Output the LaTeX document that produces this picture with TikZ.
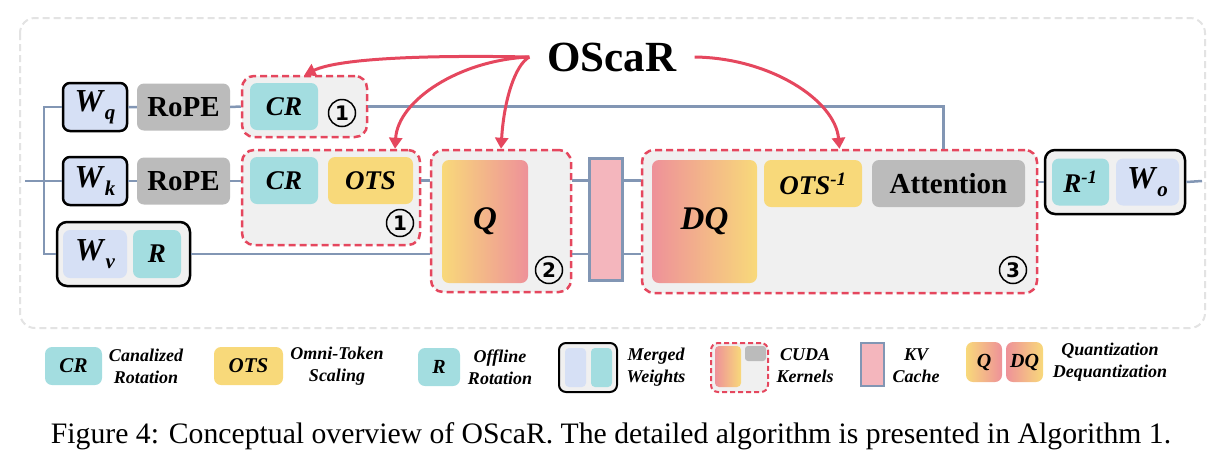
\documentclass[tikz,border=0pt]{standalone}
\usepackage{fontspec}
\setmainfont{Liberation Serif}
\newfontfamily\numfont{DejaVu Sans}
\usetikzlibrary{arrows.meta, positioning, calc}

\definecolor{linec}{HTML}{8296B4}
\definecolor{redc}{HTML}{E5475E}
\definecolor{tealc}{HTML}{A3DDE0}
\definecolor{yelc}{HTML}{F8D97A}
\definecolor{pinkc}{HTML}{EE9199}
\definecolor{ropec}{HTML}{BBBBBB}
\definecolor{wc}{HTML}{D6E0F5}
\definecolor{grpc}{HTML}{F0F0F0}
\definecolor{kvc}{HTML}{F4B6BD}
\definecolor{outc}{HTML}{E3E3E3}

\newcommand\bfit{\bfseries\itshape}
\newcommand\wsub[1]{{\bfit W\kern2pt\raisebox{-8pt}{\fontsize{21}{21}\selectfont #1}}}

\begin{document}
\begin{tikzpicture}[x=1pt, y=-1pt,
  sz/.style 2 args={minimum width=#1pt, minimum height=#2pt},
  blk/.style={rounded corners=7pt, inner sep=0pt, font=\fontsize{27}{30}\selectfont\bfit},
  wbox/.style={blk, fill=wc, font=\fontsize{32}{34}\selectfont},
  rope/.style={blk, fill=ropec, font=\fontsize{29}{32}\selectfont\bfseries},
  grp/.style={rounded corners=12pt, draw=redc, fill=grpc, dash pattern=on 7pt off 4pt, line width=2.5pt, inner sep=0pt},
  mrg/.style={rounded corners=10pt, draw=black, fill=grpc, line width=2.5pt, inner sep=0pt},
  num/.style={circle, draw, line width=1.5pt, minimum size=27pt, inner sep=0pt, font=\numfont\bfseries\fontsize{20}{20}\selectfont},
  wire/.style={linec, line width=2.5pt},
  hint/.style={redc, line width=3pt, -{Triangle[length=11pt,width=13pt]}},
  leg/.style={font=\fontsize{18}{22}\selectfont\bfit, align=center, inner sep=0pt},
  legbox/.style={blk, font=\fontsize{21}{24}\selectfont\bfit}]
  \useasboundingbox (0,0) rectangle (1223,467);
  % outer frame
  \draw[outc, line width=2pt, dash pattern=on 7pt off 4pt, rounded corners=15pt] (20,18) rectangle (1205,328);

  % kernel groups
  \node[grp, sz={125}{61}] (g1a) at (304.5,106.5) {};
  \node[grp, sz={178}{95}] (g1b) at (331,197.5) {};
  \node[grp, sz={140}{142}] (g2) at (501,221) {};
  \node[grp, sz={395}{143}] (g3) at (839.5,221.5) {};

  % q and k branches
  \node[wbox, draw=black, line width=2.5pt, sz={64}{48}] (wq) at (95,107) {\wsub{q}};
  \node[wbox, draw=black, line width=2.5pt, sz={64}{48}] (wk) at (95,181) {\wsub{k}};
  \node[rope, sz={93}{47}] (ropeq) at (183.5,107) {RoPE};
  \node[rope, sz={93}{47}] (ropek) at (183.5,181) {RoPE};
  \node[blk, fill=tealc, sz={68}{47}] (crq) at (284,106.5) {CR};
  \node[num] (n1a) at (342,113) {1};
  \node[blk, fill=tealc, sz={68}{47}] (crk) at (284,180.5) {CR};
  \node[blk, fill=yelc, sz={85}{47}] (ots) at (370.5,180.5) {OTS};
  \node[num] (n1b) at (400,223) {1};

  % v branch (merged)
  \node[mrg, sz={133}{64}] (mv) at (123.5,254) {};
  \node[wbox, sz={64}{48}] (wv) at (95,254) {\wsub{v}};
  \node[blk, fill=tealc, sz={48}{48}] (rv) at (157,254) {R};

  % quantization, kv cache, attention
  \node[blk, left color=yelc, right color=pinkc, sz={86}{123}, font=\fontsize{33}{36}\selectfont\bfit] (qk) at (485,221.5) {Q};
  \node[num] (n2) at (549,270) {2};
  \node[fill=kvc, draw=linec, line width=3pt, sz={33}{122}] (kv) at (605.5,219) {};
  \node[blk, left color=pinkc, right color=yelc, sz={105}{123}, font=\fontsize{33}{36}\selectfont\bfit] (dq) at (704.5,221.5) {DQ};
  \node[blk, fill=yelc, sz={98}{47}] (otsi) at (813,183.5) {OTS\textsuperscript{-1}};
  \node[rope, sz={153}{47}] (attn) at (948.5,183.5) {Attention};
  \node[num] (n3) at (1013,270) {3};

  % output (merged)
  \node[mrg, sz={140}{64}] (mo) at (1115,182) {};
  \node[blk, fill=tealc, sz={57}{47}] (ri) at (1080.5,182) {R\textsuperscript{-1}};
  \node[wbox, sz={63}{47}] (wo) at (1147.5,182) {\wsub{o}};

  % wires
  \coordinate (in) at (25,181);
  \coordinate (out) at (1202,181);
  \draw[wire] (in) -- (wk.west);
  \draw[wire] (wq.west) -- ++(-18,0) |- (mv.west);
  \draw[wire] (wq.east) -- (ropeq.west) (ropeq.east) -- (g1a.west);
  \draw[wire] (wk.east) -- (ropek.west) (ropek.east) -- (ropek.east -| g1b.west);
  \draw[wire] (g1a.east) -| ([xshift=-5pt]attn.north |- g3.north);
  \draw[wire] (ots.east -| g1b.east) -- (ots.east -| g2.west);
  \draw[wire] (ots.east -| g2.east) -- (ots.east -| kv.west);
  \draw[wire] (ots.east -| kv.east) -- (ots.east -| g3.west);
  \draw[wire] (mv.east) -- (mv.east -| g2.west);
  \draw[wire] (mv.east -| g2.east) -- (mv.east -| kv.west);
  \draw[wire] (mv.east -| kv.east) -- (mv.east -| g3.west);
  \draw[wire] (g3.east |- mo.west) -- (mo.west);
  \draw[wire] (mo.east) -- (out);

  % OScaR and its hints
  \node[font=\fontsize{43}{46}\selectfont\bfseries, inner sep=0pt, inner xsep=18pt] (oscar) at (612,57) {OScaR};
  \draw[hint] (oscar.west) .. controls (430,55) and (340,58) .. (g1a.north);
  \draw[hint] (oscar.west) .. controls (460,60) and (398,100) .. ([xshift=64pt]g1b.north);
  \draw[hint] (oscar.west) .. controls (515,65) and (504,100) .. (g2.north);
  \draw[hint] (oscar.east) .. controls (770,58) and (835,100) .. (g3.north);

  % legend
  \node[legbox, fill=tealc, sz={57}{38}] (lcr) at (73.5,366) {CR};
  \node[leg] (tcr) at (146,366) {Canalized\\Rotation};
  \node[legbox, fill=yelc, sz={69}{38}] (lots) at (248.5,366) {OTS};
  \node[leg] (tots) at (337,366) {Omni-Token\\Scaling};
  \node[legbox, fill=tealc, sz={42}{38}, font=\fontsize{20}{22}\selectfont\bfit] (lr) at (439,367) {R};
  \node[leg] (tr) at (500,367) {Offline\\Rotation};
  \node[mrg, sz={58}{49}, line width=2pt, rounded corners=7pt] (lmw) at (588,367.5) {};
  \node[blk, fill=wc, sz={21}{39}, rounded corners=4pt] (lmw1) at (575.5,367.5) {};
  \node[blk, fill=tealc, sz={21}{39}, rounded corners=4pt] (lmw2) at (601.5,367.5) {};
  \node[leg] (tmw) at (656,367) {Merged\\Weights};
  \node[grp, sz={57}{49}, line width=2pt, dash pattern=on 5pt off 3pt, rounded corners=7pt] (lck) at (739.5,367.5) {};
  \node[blk, left color=pinkc, right color=yelc, sz={26}{41}, rounded corners=4pt] (lck1) at (728,366.5) {};
  \node[blk, fill=ropec, sz={21}{15}, rounded corners=3pt] (lck2) at (755.5,353.5) {};
  \node[leg] (tck) at (805,366) {CUDA\\Kernels};
  \node[fill=kvc, draw=linec, line width=2.5pt, sz={23}{43}] (lkv) at (872.5,364.5) {};
  \node[leg] (tkv) at (916,366) {KV\\Cache};
  \node[legbox, left color=yelc, right color=pinkc, sz={36}{40}, font=\fontsize{20}{22}\selectfont\bfit] (lq) at (984,362) {Q};
  \node[legbox, left color=pinkc, right color=yelc, sz={37}{40}, font=\fontsize{20}{22}\selectfont\bfit] (ldq) at (1024.5,362) {DQ};
  \node[leg] (tq) at (1110,362) {Quantization\\Dequantization};

  % caption
  \node[font=\fontsize{29.7}{34}\selectfont, anchor=base, inner sep=0pt] (cap) at (611,443) {Figure 4: Conceptual overview of OScaR. The detailed algorithm is presented in Algorithm 1.};
\end{tikzpicture}
\end{document}
